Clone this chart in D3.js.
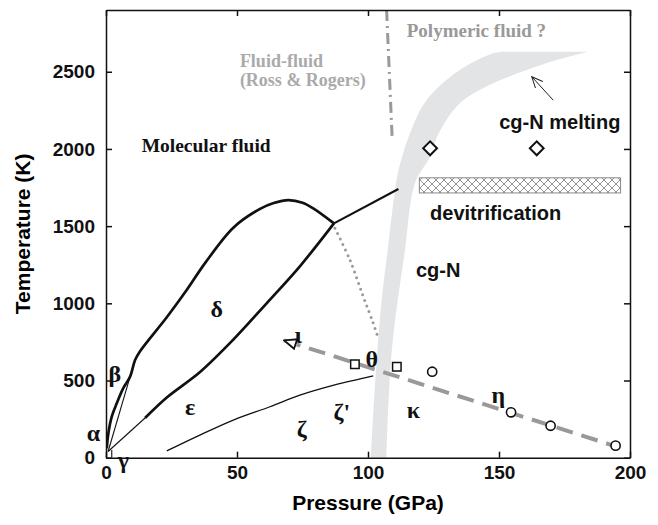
<!DOCTYPE html>
<html>
<head>
<meta charset="utf-8">
<script src="https://cdn.jsdelivr.net/npm/d3@7"></script>
<style>
  body { margin: 0; background: #fff; }
  svg { display: block; }
  .axis text { font-family: "Liberation Sans", Arial, sans-serif; font-weight: bold; font-size: 19px; fill: #111; }
  .axis path, .axis line { stroke: #111; stroke-width: 1.5; }
</style>
</head>
<body>
<div id="chart"></div>
<script>
// phase diagram of nitrogen, values as [pressure GPa, temperature K]
const pressureTicks = [0, 50, 100, 150, 200];
const temperatureTicks = [0, 500, 1000, 1500, 2000, 2500];

const deltaUpper = [[0.3, 61], [0.9, 158], [2.2, 266], [4.1, 352], [6.6, 450], [9.2, 525], [11.1, 633],
  [13, 690], [23.2, 910], [30.8, 1086], [38, 1265], [48.6, 1490],
  [58.8, 1612], [64, 1650], [69.6, 1669], [75, 1652], [79.1, 1615], [87, 1518]];
const deltaLower = [[14.9, 257], [23.2, 390], [35.9, 555], [48.6, 765], [61.3, 1000], [74, 1240], [87, 1518]];
const tripleToBand = [[87, 1518], [111.6, 1740]];
const gammaLeft = [[0.8, 40], [9.2, 525]];
const gammaRight = [[0.8, 40], [14.9, 257]];
const alphaTick = [[2.2, 0], [2.2, 50]];
const zetaLine = [[23.2, 44], [35, 140], [48.6, 244], [62.6, 330], [74, 405], [87, 470], [97, 510], [102, 530]];
const dottedLine = [[87.4, 1486], [93.1, 1281], [98.2, 1043], [102, 871], [104, 770]];
const rossRogers = [[107.1, 2900], [109.2, 2079]];
const iotaEta = [[68, 760], [193, 82]];

const bandLeft = [[101, -60], [101.1, 0], [102.2, 350], [103.6, 700], [105.4, 1050], [107.5, 1344],
  [110.7, 1778], [112, 1886], [116, 2100], [122.4, 2317], [135, 2511], [147.8, 2620], [152, 2630]];
const bandRight = [[184, 2630], [172, 2576], [160.6, 2511], [147.8, 2425], [135.1, 2296], [127, 2101],
  [123.7, 1950], [117.9, 1778], [114.1, 1344], [109.1, 697], [107, 0], [106.9, -60]];

const squares = [[95, 605], [111, 589]];
const circles = [[124.5, 557], [154.6, 294], [169.7, 207], [194.5, 78]];
const diamonds = [[123.7, 2004], [164.4, 2004]];
const devitrification = [[119.6, 1813], [196.4, 1715]];
const meltingArrow = [[170.7, 2316], [162.5, 2468]];

const serifLabels = [
  { text: "Molecular fluid", p: 13.6, T: 2026, color: "#111", size: 19.5 },
  { text: "Fluid-fluid", p: 51.1, T: 2570, color: "#aaa", size: 18 },
  { text: "(Ross & Rogers)", p: 51.1, T: 2446, color: "#aaa", size: 18 },
  { text: "Polymeric fluid ?", p: 114.8, T: 2770, color: "#999", size: 19 }
];
const sansLabels = [
  { text: "cg-N melting", p: 150.1, T: 2176 },
  { text: "devitrification", p: 123.7, T: 1583 },
  { text: "cg-N", p: 118.3, T: 1216 }
];
const phaseLabels = [
  { text: "α", p: -4.8, T: 160 }, { text: "β", p: 3.4, T: 547 }, { text: "γ", p: 6.6, T: -15 },
  { text: "δ", p: 42.3, T: 968 }, { text: "ε", p: 32.1, T: 330 }, { text: "ζ", p: 74.7, T: 190 },
  { text: "ζ'", p: 90, T: 298 }, { text: "κ", p: 117.3, T: 309 }, { text: "η", p: 149.7, T: 406 },
  { text: "θ", p: 101.4, T: 644 }, { text: "ι", p: 73.4, T: 795 }
];

const width = 658, height = 525;
const x = d3.scaleLinear().domain([0, 200]).range([106, 630]);
const y = d3.scaleLinear().domain([0, 2900]).range([457.7, 10]);

const svg = d3.select('#chart').append('svg')
    .attr('width', width)
    .attr('height', height);

const defs = svg.append('defs');
defs.append('clipPath').attr('id', 'plot')
  .append('rect')
    .attr('x', x(0)).attr('y', y(2900))
    .attr('width', x(200) - x(0)).attr('height', y(0) - y(2900));

const hatch = defs.append('pattern')
    .attr('id', 'hatch')
    .attr('patternUnits', 'userSpaceOnUse')
    .attr('width', 8).attr('height', 8);
hatch.append('rect').attr('width', 8).attr('height', 8).attr('fill', '#fff');
hatch.append('path').attr('d', 'M0,0L8,8M8,0L0,8')
    .attr('stroke', '#888').attr('stroke-width', 0.9);

defs.append('marker')
    .attr('id', 'openTri')
    .attr('markerUnits', 'userSpaceOnUse')
    .attr('viewBox', '0 0 14 14')
    .attr('refX', 13).attr('refY', 7)
    .attr('markerWidth', 14).attr('markerHeight', 14)
    .attr('orient', 'auto-start-reverse')
  .append('path')
    .attr('d', 'M1,2L13,7L1,12Z')
    .attr('fill', '#fff').attr('stroke', '#111').attr('stroke-width', 1.8);

defs.append('marker')
    .attr('id', 'openHead')
    .attr('markerUnits', 'userSpaceOnUse')
    .attr('viewBox', '0 0 12 12')
    .attr('refX', 11).attr('refY', 6)
    .attr('markerWidth', 12).attr('markerHeight', 12)
    .attr('orient', 'auto')
  .append('path')
    .attr('d', 'M0,1L11,6L0,11')
    .attr('fill', 'none').attr('stroke', '#222').attr('stroke-width', 1);

const plot = svg.append('g').attr('clip-path', 'url(#plot)');

const line = d3.line().x(d => x(d[0])).y(d => y(d[1]));
const smooth = d3.line().x(d => x(d[0])).y(d => y(d[1])).curve(d3.curveCatmullRom);

// cg-N stability band
plot.append('path')
    .attr('d', smooth(bandLeft) + 'L' + smooth(bandRight).slice(1) + 'Z')
    .attr('fill', '#e3e4e5');

// hatched devitrification bar
plot.append('rect')
    .attr('x', x(devitrification[0][0]))
    .attr('y', y(devitrification[0][1]))
    .attr('width', x(devitrification[1][0]) - x(devitrification[0][0]))
    .attr('height', y(devitrification[1][1]) - y(devitrification[0][1]))
    .attr('fill', 'url(#hatch)')
    .attr('stroke', '#888').attr('stroke-width', 1);

plot.append('path').attr('d', line(rossRogers))
    .attr('fill', 'none').attr('stroke', '#999').attr('stroke-width', 3)
    .attr('stroke-dasharray', '11,5,2,5');

plot.append('path').attr('d', smooth(dottedLine))
    .attr('fill', 'none').attr('stroke', '#999').attr('stroke-width', 3)
    .attr('stroke-linecap', 'round').attr('stroke-dasharray', '0,6');

[deltaUpper, deltaLower].forEach(d => {
  plot.append('path').attr('d', smooth(d))
      .attr('fill', 'none').attr('stroke', '#111').attr('stroke-width', 2.7)
      .attr('stroke-linejoin', 'round');
});
plot.append('path').attr('d', line(tripleToBand))
    .attr('fill', 'none').attr('stroke', '#111').attr('stroke-width', 2.2);

[gammaLeft, gammaRight, alphaTick].forEach(d => {
  plot.append('path').attr('d', line(d))
      .attr('fill', 'none').attr('stroke', '#111').attr('stroke-width', 1.1);
});
plot.append('path').attr('d', smooth(zetaLine))
    .attr('fill', 'none').attr('stroke', '#111').attr('stroke-width', 1.3);

plot.append('path').attr('d', line(iotaEta))
    .attr('fill', 'none').attr('stroke', '#999').attr('stroke-width', 4)
    .attr('stroke-dasharray', '17,9')
    .attr('marker-start', 'url(#openTri)');

plot.append('path').attr('d', line(meltingArrow))
    .attr('fill', 'none').attr('stroke', '#222').attr('stroke-width', 1)
    .attr('marker-end', 'url(#openHead)');

// experimental points
plot.selectAll('.sq').data(squares).enter().append('path')
    .attr('transform', d => `translate(${x(d[0])},${y(d[1])})`)
    .attr('d', d3.symbol(d3.symbolSquare, 72))
    .attr('fill', '#fff').attr('stroke', '#111').attr('stroke-width', 1.5);
plot.selectAll('.ci').data(circles).enter().append('circle')
    .attr('cx', d => x(d[0])).attr('cy', d => y(d[1])).attr('r', 4.6)
    .attr('fill', '#fff').attr('stroke', '#111').attr('stroke-width', 1.6);
plot.selectAll('.di').data(diamonds).enter().append('path')
    .attr('transform', d => `translate(${x(d[0])},${y(d[1])}) rotate(45)`)
    .attr('d', d3.symbol(d3.symbolSquare, 95))
    .attr('fill', '#fff').attr('stroke', '#111').attr('stroke-width', 2);

// axes with inward ticks on all four sides
svg.append('g').attr('class', 'axis')
    .attr('transform', `translate(0,${y(0)})`)
    .call(d3.axisBottom(x).tickValues(pressureTicks).tickSize(-6).tickSizeOuter(0).tickPadding(8).tickFormat(d3.format('d')));
svg.append('g').attr('class', 'axis')
    .attr('transform', `translate(0,${y(2900)})`)
    .call(d3.axisTop(x).tickValues(pressureTicks).tickSize(-6).tickSizeOuter(0).tickFormat(''));
svg.append('g').attr('class', 'axis')
    .attr('transform', `translate(${x(0)},0)`)
    .call(d3.axisLeft(y).tickValues(temperatureTicks).tickSize(-6).tickSizeOuter(0).tickPadding(11).tickFormat(d3.format('d')));
svg.append('g').attr('class', 'axis')
    .attr('transform', `translate(${x(200)},0)`)
    .call(d3.axisRight(y).tickValues(temperatureTicks).tickSize(-6).tickSizeOuter(0).tickFormat(''));

svg.append('text')
    .attr('x', (x(0) + x(200)) / 2).attr('y', 510)
    .attr('text-anchor', 'middle')
    .style('font', 'bold 21px "Liberation Sans", Arial, sans-serif')
    .text('Pressure (GPa)');
svg.append('text')
    .attr('transform', `translate(30,${(y(0) + y(2900)) / 2}) rotate(-90)`)
    .attr('text-anchor', 'middle')
    .style('font', 'bold 21px "Liberation Sans", Arial, sans-serif')
    .text('Temperature (K)');

svg.selectAll('.serif').data(serifLabels).enter().append('text')
    .attr('x', d => x(d.p)).attr('y', d => y(d.T))
    .attr('dy', '0.35em')
    .style('font-family', '"Liberation Serif", "Times New Roman", serif')
    .style('font-weight', 'bold')
    .style('font-size', d => d.size + 'px')
    .attr('fill', d => d.color)
    .text(d => d.text);

svg.selectAll('.sans').data(sansLabels).enter().append('text')
    .attr('x', d => x(d.p)).attr('y', d => y(d.T))
    .attr('dy', '0.35em')
    .style('font', 'bold 20px "Liberation Sans", Arial, sans-serif')
    .attr('fill', '#111')
    .text(d => d.text);

svg.selectAll('.phase').data(phaseLabels).enter().append('text')
    .attr('x', d => x(d.p)).attr('y', d => y(d.T))
    .attr('dy', '0.35em')
    .attr('text-anchor', 'middle')
    .style('font', 'bold 24px "Liberation Serif", "Times New Roman", serif')
    .attr('fill', '#111')
    .text(d => d.text);
</script>
</body>
</html>
